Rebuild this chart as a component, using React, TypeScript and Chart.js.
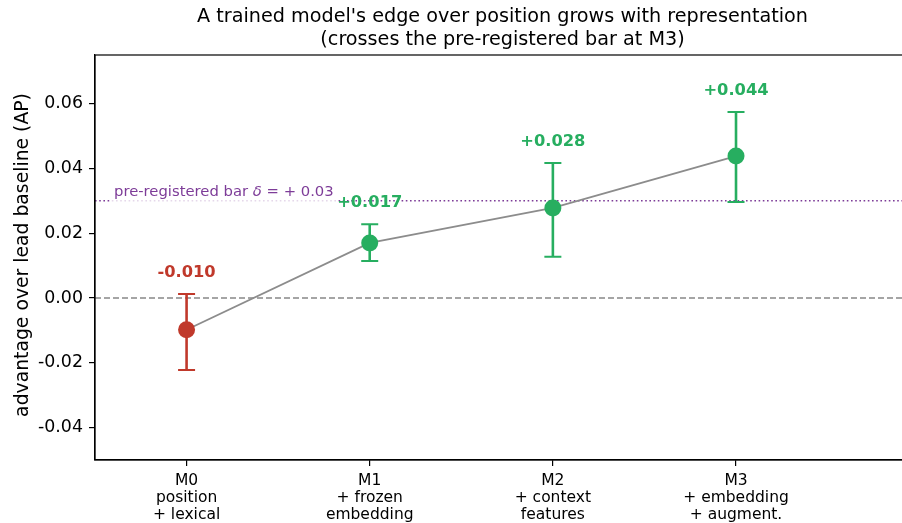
import React, { useEffect, useRef } from "react";
import { Chart, registerables } from "chart.js";
Chart.register(...registerables);

const models = ["M0", "M1", "M2", "M3"];
const descriptions = [
  ["position", "+ lexical"],
  ["+ frozen", "embedding"],
  ["+ context", "features"],
  ["+ embedding", "+ augment."],
];
const advantage = [-0.0098, 0.017, 0.0278, 0.0438];
const ciLow = [-0.0222, 0.0114, 0.0127, 0.0296];
const ciHigh = [0.0012, 0.0228, 0.0417, 0.0574];
const valueLabels = ["-0.010", "+0.017", "+0.028", "+0.044"];
const yTicks = [-0.04, -0.02, 0, 0.02, 0.04, 0.06];
const preregBar = 0.03;
const titleLines = [
  "A trained model's edge over position grows with representation",
  "(crosses the pre-registered bar at M3)",
];
const yLabel = "advantage over lead baseline (AP)";

const FONT = "'DejaVu Sans'";
const RED = "#c0392b";
const GREEN = "#27ae60";
const PURPLE = "#7d3c98";

const colorFor = (v: number) => (v < 0 ? RED : GREEN);

const overlay = {
  id: "overlay",
  beforeDatasetsDraw(chart: any) {
    const { ctx, chartArea: a, scales } = chart;
    const y = scales.y;
    ctx.save();
    ctx.beginPath();
    ctx.rect(a.left, a.top, a.right - a.left, a.bottom - a.top);
    ctx.clip();
    // zero line
    ctx.strokeStyle = "#888888";
    ctx.lineWidth = 1.4;
    ctx.setLineDash([6, 3]);
    const y0 = y.getPixelForValue(0);
    ctx.beginPath();
    ctx.moveTo(a.left, y0);
    ctx.lineTo(a.right, y0);
    ctx.stroke();
    // prereg line
    ctx.strokeStyle = PURPLE;
    ctx.lineWidth = 1.6;
    ctx.setLineDash([1.6, 2.6]);
    const yb = y.getPixelForValue(preregBar);
    ctx.beginPath();
    ctx.moveTo(a.left, yb);
    ctx.lineTo(a.right, yb);
    ctx.stroke();
    ctx.setLineDash([]);
    // prereg label
    const parts: [string, string][] = [
      ["pre-registered bar ", "normal"],
      ["δ", "italic"],
      [" = + 0.03", "normal"],
    ];
    const fs = 14.8;
    const widths = parts.map(([t, s]) => {
      ctx.font = `${s} ${fs}px ${FONT}`;
      return ctx.measureText(t).width;
    });
    const total = widths.reduce((p, c) => p + c, 0);
    let tx = a.left + 19;
    const ty = yb - 9;
    ctx.fillStyle = "rgba(255,255,255,0.8)";
    ctx.fillRect(tx - 3, ty - 10, total + 6, 21);
    ctx.fillStyle = PURPLE;
    ctx.textBaseline = "middle";
    ctx.textAlign = "left";
    parts.forEach(([t, s], i) => {
      ctx.font = `${s} ${fs}px ${FONT}`;
      ctx.fillText(t, tx, ty);
      tx += widths[i];
    });
    ctx.restore();
  },
  afterDatasetsDraw(chart: any) {
    const { ctx, scales } = chart;
    const x = scales.x, y = scales.y;
    ctx.save();
    advantage.forEach((v, i) => {
      const px = x.getPixelForValue(i);
      const py = y.getPixelForValue(v);
      const ph = y.getPixelForValue(ciHigh[i]);
      const pl = y.getPixelForValue(ciLow[i]);
      const c = colorFor(v);
      ctx.strokeStyle = c;
      ctx.lineWidth = 2.6;
      ctx.beginPath();
      ctx.moveTo(px, ph);
      ctx.lineTo(px, pl);
      ctx.stroke();
      ctx.lineWidth = 2;
      ctx.beginPath();
      ctx.moveTo(px - 8.5, ph);
      ctx.lineTo(px + 8.5, ph);
      ctx.moveTo(px - 8.5, pl);
      ctx.lineTo(px + 8.5, pl);
      ctx.stroke();
      ctx.fillStyle = c;
      ctx.beginPath();
      ctx.arc(px, py, 8.5, 0, Math.PI * 2);
      ctx.fill();
      ctx.font = `bold 16.3px ${FONT}`;
      ctx.textAlign = "center";
      ctx.textBaseline = "middle";
      ctx.fillText(valueLabels[i], px, ph - 21);
    });
    ctx.restore();
  },
  afterDraw(chart: any) {
    const { ctx, chartArea: a } = chart;
    ctx.save();
    ctx.strokeStyle = "#000";
    ctx.lineWidth = 1.2;
    ctx.strokeRect(a.left, a.top, a.right - a.left, a.bottom - a.top);
    ctx.fillStyle = "#000";
    ctx.textAlign = "center";
    ctx.textBaseline = "middle";
    ctx.font = `19.2px ${FONT}`;
    const cx = (a.left + a.right) / 2;
    ctx.fillText(titleLines[0], cx, 17.5);
    ctx.fillText(titleLines[1], cx, 40);
    ctx.translate(23, 255);
    ctx.rotate(-Math.PI / 2);
    ctx.font = `18.8px ${FONT}`;
    ctx.fillText(yLabel, 0, 0);
    ctx.restore();
  },
};

export default function App() {
  const ref = useRef<HTMLCanvasElement>(null);
  useEffect(() => {
    document.body.style.margin = "0";
    const chart = new Chart(ref.current!, {
      type: "line",
      data: {
        datasets: [
          {
            data: advantage.map((v, i) => ({ x: i, y: v })),
            borderColor: "#8c8c8c",
            borderWidth: 1.9,
            pointRadius: 0,
            fill: false,
          },
        ],
      },
      options: {
        animation: false,
        responsive: false,
        devicePixelRatio: 1,
        layout: { padding: { left: 0, top: 55, right: 2, bottom: 0 } },
        plugins: { legend: { display: false }, tooltip: { enabled: false }, title: { display: false } },
        scales: {
          x: {
            type: "linear",
            min: -0.5,
            max: 3.95,
            afterFit: (s: any) => { s.height = 63; },
            afterBuildTicks: (s: any) => { s.ticks = models.map((_, i) => ({ value: i })); },
            ticks: {
              autoSkip: false,
              maxRotation: 0,
              padding: 7,
              color: "#000",
              font: { family: "DejaVu Sans", size: 15.5, lineHeight: 1.08 },
              callback: (v: any) => [models[v], ...descriptions[v]],
            },
            grid: { display: true, drawOnChartArea: false, drawTicks: true, tickLength: 6, color: "#000", lineWidth: 1.2 },
            border: { display: true, color: "#000", width: 1.2 },
          },
          y: {
            min: -0.05,
            max: 0.075,
            afterFit: (s: any) => { s.width = 95; },
            afterBuildTicks: (s: any) => { s.ticks = yTicks.map((v) => ({ value: v })); },
            ticks: {
              padding: 6,
              color: "#000",
              font: { family: "DejaVu Sans", size: 17.4 },
              callback: (v: any) => Number(v).toFixed(2),
            },
            grid: { display: true, drawOnChartArea: false, drawTicks: true, tickLength: 6, color: "#000", lineWidth: 1.2 },
            border: { display: true, color: "#000", width: 1.2 },
          },
        },
      },
      plugins: [overlay],
    } as any);
    return () => chart.destroy();
  }, []);
  return (
    <div style={{ width: 902, height: 523, overflow: "hidden", background: "#fff" }}>
      <canvas ref={ref} width={912} height={523} style={{ display: "block" }} />
    </div>
  );
}
